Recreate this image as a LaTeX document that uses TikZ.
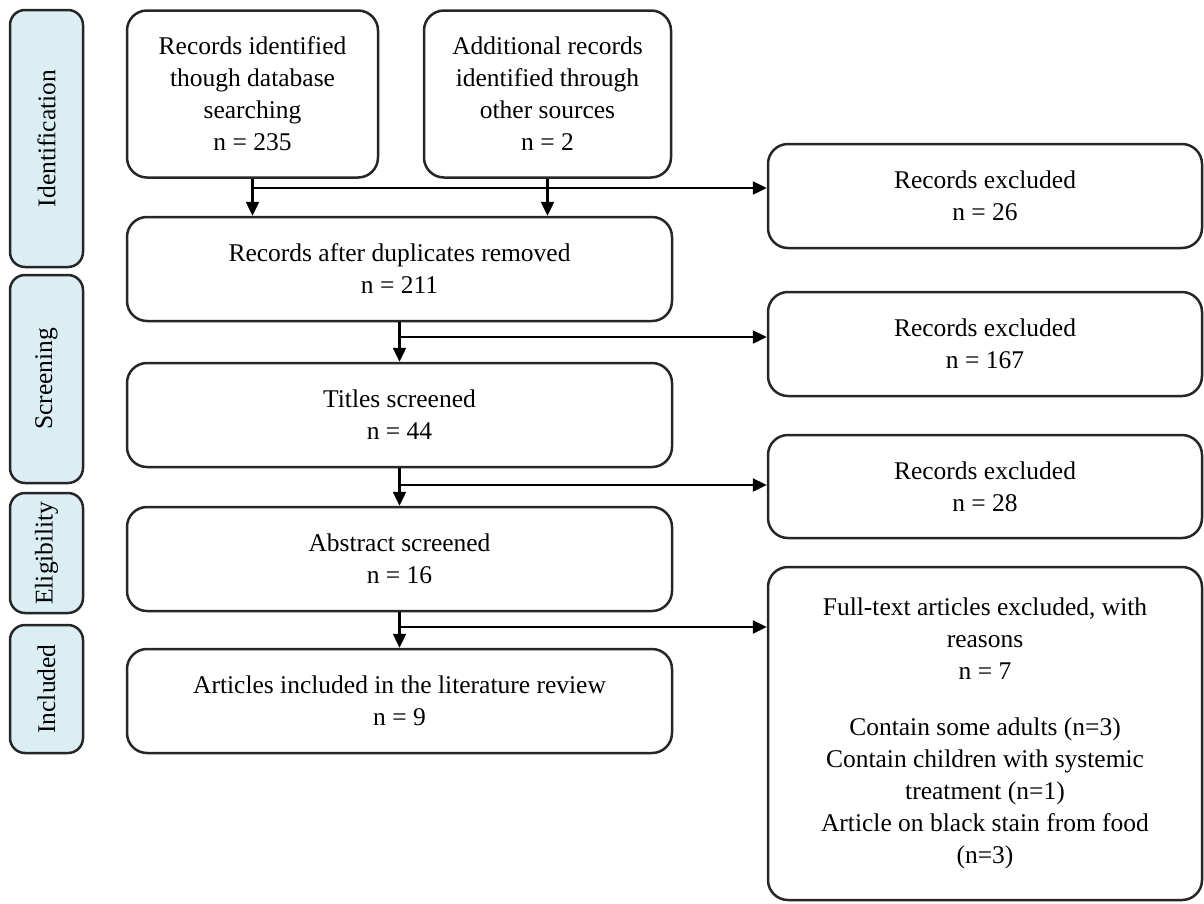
\documentclass[tikz,border=0pt]{standalone}
\usepackage{fontspec}
\setmainfont{Liberation Serif}
\usetikzlibrary{arrows.meta}
\begin{document}
\begin{tikzpicture}[x=1pt,y=-1pt,
  every node/.style={font=\fontsize{25.5pt}{32pt}\selectfont},
  mainbox/.style={draw=black!85, line width=2.5pt, rounded corners=20pt, fill=white, align=center, inner sep=0pt},
  sidebox/.style={draw=black!85, line width=2.5pt, rounded corners=15pt, fill=sideblue, minimum width=73pt, inner sep=0pt},
  arr/.style={draw=black, line width=2.4pt, -{Triangle[length=14pt,width=13pt]}},
  plainline/.style={draw=black, line width=2.4pt}
]
\definecolor{sideblue}{HTML}{DBEEF4}
\useasboundingbox (0,0) rectangle (1204,903);

% side labels
\node[sidebox, minimum height=257pt] (sid) at (46.5,138.5) {};
\node[rotate=90] at (sid.center) {Identification};
\node[sidebox, minimum height=208pt] (sscr) at (46.5,379) {};
\node[rotate=90] at (sscr.center) {Screening};
\node[sidebox, minimum height=120pt] (selig) at (46.5,553) {};
\node[rotate=90] at (selig.center) {Eligibility};
\node[sidebox, minimum height=128pt] (sinc) at (46.5,689) {};
\node[rotate=90] at (sinc.center) {Included};

% main column
\node[mainbox, minimum width=251pt, minimum height=167pt] (b1) at (252.5,94)
  {Records identified\\though database\\searching\\n = 235};
\node[mainbox, minimum width=247pt, minimum height=167pt] (b2) at (547.5,94)
  {Additional records\\identified through\\other sources\\n = 2};
\node[mainbox, minimum width=545pt, minimum height=104pt] (b3) at (399.5,269)
  {Records after duplicates removed\\n = 211};
\node[mainbox, minimum width=545pt, minimum height=104pt] (b4) at (399.5,415)
  {Titles screened\\n = 44};
\node[mainbox, minimum width=545pt, minimum height=104pt] (b5) at (399.5,559)
  {Abstract screened\\n = 16};
\node[mainbox, minimum width=545pt, minimum height=104pt] (b7) at (399.5,701)
  {Articles included in the literature review\\n = 9};

% excluded column
\node[mainbox, minimum width=434pt, minimum height=104pt] (e1) at (985,196)
  {Records excluded\\n = 26};
\node[mainbox, minimum width=434pt, minimum height=104pt] (e2) at (985,344)
  {Records excluded\\n = 167};
\node[mainbox, minimum width=434pt, minimum height=103pt] (e3) at (985,486.5)
  {Records excluded\\n = 28};
\node[mainbox, minimum width=434pt, minimum height=333pt] (e4) at (985,733.5)
  {Full-text articles excluded, with\\reasons\\n = 7\\[24pt]Contain some adults (n=3)\\Contain children with systemic\\treatment (n=1)\\Article on black stain from food\\(n=3)};

% connectors
\coordinate (j1) at (252.5,188);
\draw[arr] (b1.south) -- (b1.south |- b3.north);
\draw[arr] (b2.south) -- (b2.south |- b3.north);
\draw[arr] (j1) -- (j1 -| e1.west);

\coordinate (j2) at (399.5,337);
\draw[arr] (b3.south) -- (b4.north);
\draw[arr] (j2) -- (j2 -| e2.west);

\coordinate (j3) at (399.5,485);
\draw[arr] (b4.south) -- (b5.north);
\draw[arr] (j3) -- (j3 -| e3.west);

\coordinate (j4) at (399.5,627);
\draw[arr] (b5.south) -- (b7.north);
\draw[arr] (j4) -- (j4 -| e4.west);
\end{tikzpicture}
\end{document}
